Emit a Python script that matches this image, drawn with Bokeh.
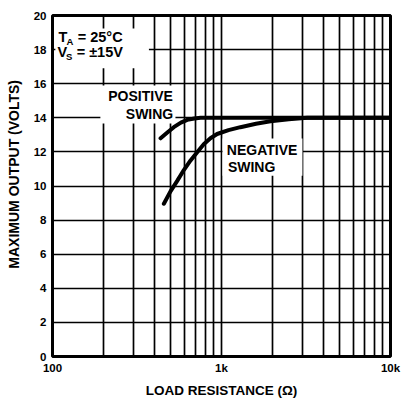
import math
from bokeh.plotting import figure
from bokeh.models import FixedTicker, Label, BoxAnnotation
from bokeh.embed import file_html
from bokeh.resources import INLINE

# Data
pos_r = [436, 480, 522, 575, 627, 690, 752, 850, 1000, 2000, 5000, 10000]
pos_v = [12.8, 13.15, 13.45, 13.72, 13.88, 13.96, 14.0, 14.0, 14.0, 14.0, 14.0, 14.0]
neg_r = [456, 500, 547, 600, 656, 720, 785, 860, 942, 1100, 1294, 1600, 1950, 2500, 3214, 5000, 10000]
neg_v = [8.96, 9.7, 10.3, 10.95, 11.5, 12.0, 12.45, 12.8, 13.05, 13.28, 13.45, 13.65, 13.8, 13.92, 14.0, 14.0, 14.0]

y_ticks = [0, 2, 4, 6, 8, 10, 12, 14, 16, 18, 20]
x_ticks = [100, 1000, 10000]
x_tick_labels = {100: "100", 1000: "1k", 10000: "10k"}
x_grid = [100, 200, 300, 400, 500, 600, 700, 800, 900,
          1000, 2000, 3000, 4000, 5000, 6000, 7000, 8000, 9000, 10000]

FONT = "Liberation Sans"
NB = "\u00A0"

p = figure(width=401, height=404, x_axis_type="log",
           x_range=(100, 10000), y_range=(0, 20),
           output_backend="svg", toolbar_location=None,
           min_border_left=52, min_border_right=11,
           min_border_top=15, min_border_bottom=48)

p.outline_line_color = "black"
p.outline_line_width = 3
p.outline_line_alpha = 1

# grids
p.xgrid.ticker = FixedTicker(ticks=x_grid)
p.xgrid.grid_line_color = "black"
p.xgrid.grid_line_width = 1.7
p.xgrid.grid_line_alpha = 1
p.ygrid.ticker = FixedTicker(ticks=y_ticks)
p.ygrid.grid_line_color = "black"
p.ygrid.grid_line_width = 1.4
p.ygrid.grid_line_alpha = 1

# axes
xa = p.xaxis[0]
xa.ticker = FixedTicker(ticks=x_ticks, minor_ticks=[])
xa.major_label_overrides = x_tick_labels
xa.axis_line_color = None
xa.major_tick_line_color = None
xa.minor_tick_line_color = None
xa.major_tick_out = 0
xa.major_tick_in = 0
xa.major_label_standoff = 5
xa.major_label_text_font = FONT
xa.major_label_text_font_style = "bold"
xa.major_label_text_font_size = "11.5px"
xa.major_label_text_color = "black"
xa.axis_label = "LOAD RESISTANCE (\u03A9)"
xa.axis_label_text_font = FONT
xa.axis_label_text_font_style = "bold"
xa.axis_label_text_font_size = "13.5px"
xa.axis_label_text_color = "black"
xa.axis_label_standoff = 6

ya = p.yaxis[0]
ya.ticker = FixedTicker(ticks=y_ticks, minor_ticks=[])
ya.axis_line_color = None
ya.major_tick_line_color = None
ya.minor_tick_line_color = None
ya.major_tick_out = 0
ya.major_tick_in = 0
ya.major_label_standoff = 6
ya.major_label_text_font = FONT
ya.major_label_text_font_style = "bold"
ya.major_label_text_font_size = "11.5px"
ya.major_label_text_color = "black"
# leading no-break spaces push the rotated title up, as in the reference
ya.axis_label = NB * 6 + "MAXIMUM OUTPUT (VOLTS)"
ya.axis_label_text_font = FONT
ya.axis_label_text_font_style = "bold"
ya.axis_label_text_font_size = "14px"
ya.axis_label_text_color = "black"
ya.axis_label_standoff = 9

def lab(x, y, s, size, xo=0, yo=0, align="center", base="middle"):
    p.add_layout(Label(x=x, y=y, x_offset=xo, y_offset=yo, text=s,
                       text_align=align, text_baseline=base,
                       text_font=FONT, text_font_style="bold", text_font_size=size,
                       text_color="black"))

# white boxes under annotation texts (below the curves, above the grid)
def wbox(l, r, b, t):
    p.add_layout(BoxAnnotation(left=l, right=r, bottom=b, top=t,
                               fill_color="white", fill_alpha=1, line_color=None,
                               level="underlay"))

wbox(104, 372, 16.9, 19.24)   # TA / VS block
wbox(192, 534, 13.67, 15.9)   # POSITIVE SWING
wbox(1014, 3013, 10.6, 12.79) # NEGATIVE SWING

# curves
p.line(pos_r, pos_v, line_color="black", line_width=4, line_cap="round", line_join="round")
p.line(neg_r, neg_v, line_color="black", line_width=4, line_cap="round", line_join="round")

def txt(x, y, s, size="14.5px", align="left"):
    lab(x, y, s, size, align=align)

# T_A = 25°C
txt(108.5, 18.71, "T")
txt(121, 18.48, "A", size="9.5px")
txt(141, 18.71, "= 25\u00B0C")
# V_S = ±15V
txt(107, 17.83, "V")
txt(120, 17.6, "S", size="9.5px")
txt(139, 17.83, "= \u00B115V")

txt(332, 15.25, "POSITIVE", size="14px", align="center")
txt(375, 14.25, "SWING", size="14px", align="center")
txt(1738, 12.14, "NEGATIVE", size="14px", align="center")
txt(1507, 11.14, "SWING", size="14px", align="center")

open("out.html", "w").write(file_html(p, INLINE))
